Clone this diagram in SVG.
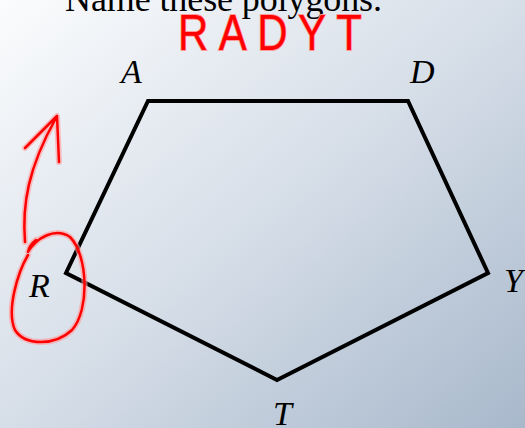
<svg xmlns="http://www.w3.org/2000/svg" width="525" height="428" viewBox="0 0 525 428">
<defs>
<linearGradient id="bg" x1="0" y1="0" x2="1" y2="1">
<stop offset="0" stop-color="#fbfcfd"/>
<stop offset="0.5" stop-color="#d6dee8"/>
<stop offset="1" stop-color="#a8b8cb"/>
</linearGradient>
<style>
.lbl{font-family:"Liberation Serif",serif;font-style:italic;font-size:34px;fill:#000}
.ink{fill:none;stroke-linecap:round;stroke-linejoin:round}
.halo{stroke:#ff9a9a;stroke-width:6;opacity:0.6}
.core{stroke:#ff0000;stroke-width:2.5}
</style>
</defs>
<rect width="525" height="428" fill="url(#bg)"/>
<text x="65" y="11" font-family="Liberation Serif,serif" font-size="36" fill="#000" textLength="317">Name these polygons.</text>
<g id="connectors">
<polygon points="148,101 408,101 488,273 277,380 66,273" fill="none" stroke="#000" stroke-width="4" stroke-linejoin="miter"/>
</g>
<g id="A"><text class="lbl" x="121" y="83">A</text></g>
<g id="D"><text class="lbl" x="410" y="83">D</text></g>
<g id="Y"><text class="lbl" x="504" y="292">Y</text></g>
<g id="T"><text class="lbl" x="273" y="425">T</text></g>
<g id="R"><text class="lbl" x="29" y="297">R</text></g>
<g id="annotation">
<text transform="scale(1,1.2)" x="178" y="42" font-family="Liberation Sans,sans-serif" font-size="42" fill="#ff0000" stroke="#ff9a9a" stroke-width="1.5" paint-order="stroke" textLength="184" lengthAdjust="spacing">RADYT</text>
<g class="ink">
<path class="halo" d="M28,255 C18,272 6,310 15,330 C25,346 55,346 72,330 C90,310 88,255 70,237 C55,227 36,238 28,252 C29,247 32,243 36,240"/>
<path class="core" d="M28,255 C18,272 6,310 15,330 C25,346 55,346 72,330 C90,310 88,255 70,237 C55,227 36,238 28,252 C29,247 32,243 36,240"/>
<path class="halo" d="M25,242 C22,205 28,168 56,118 M25,148 L57,116 L59,162"/>
<path class="core" d="M25,242 C22,205 28,168 56,118 M25,148 L57,116 L59,162"/>
</g>
</g>
</svg>
